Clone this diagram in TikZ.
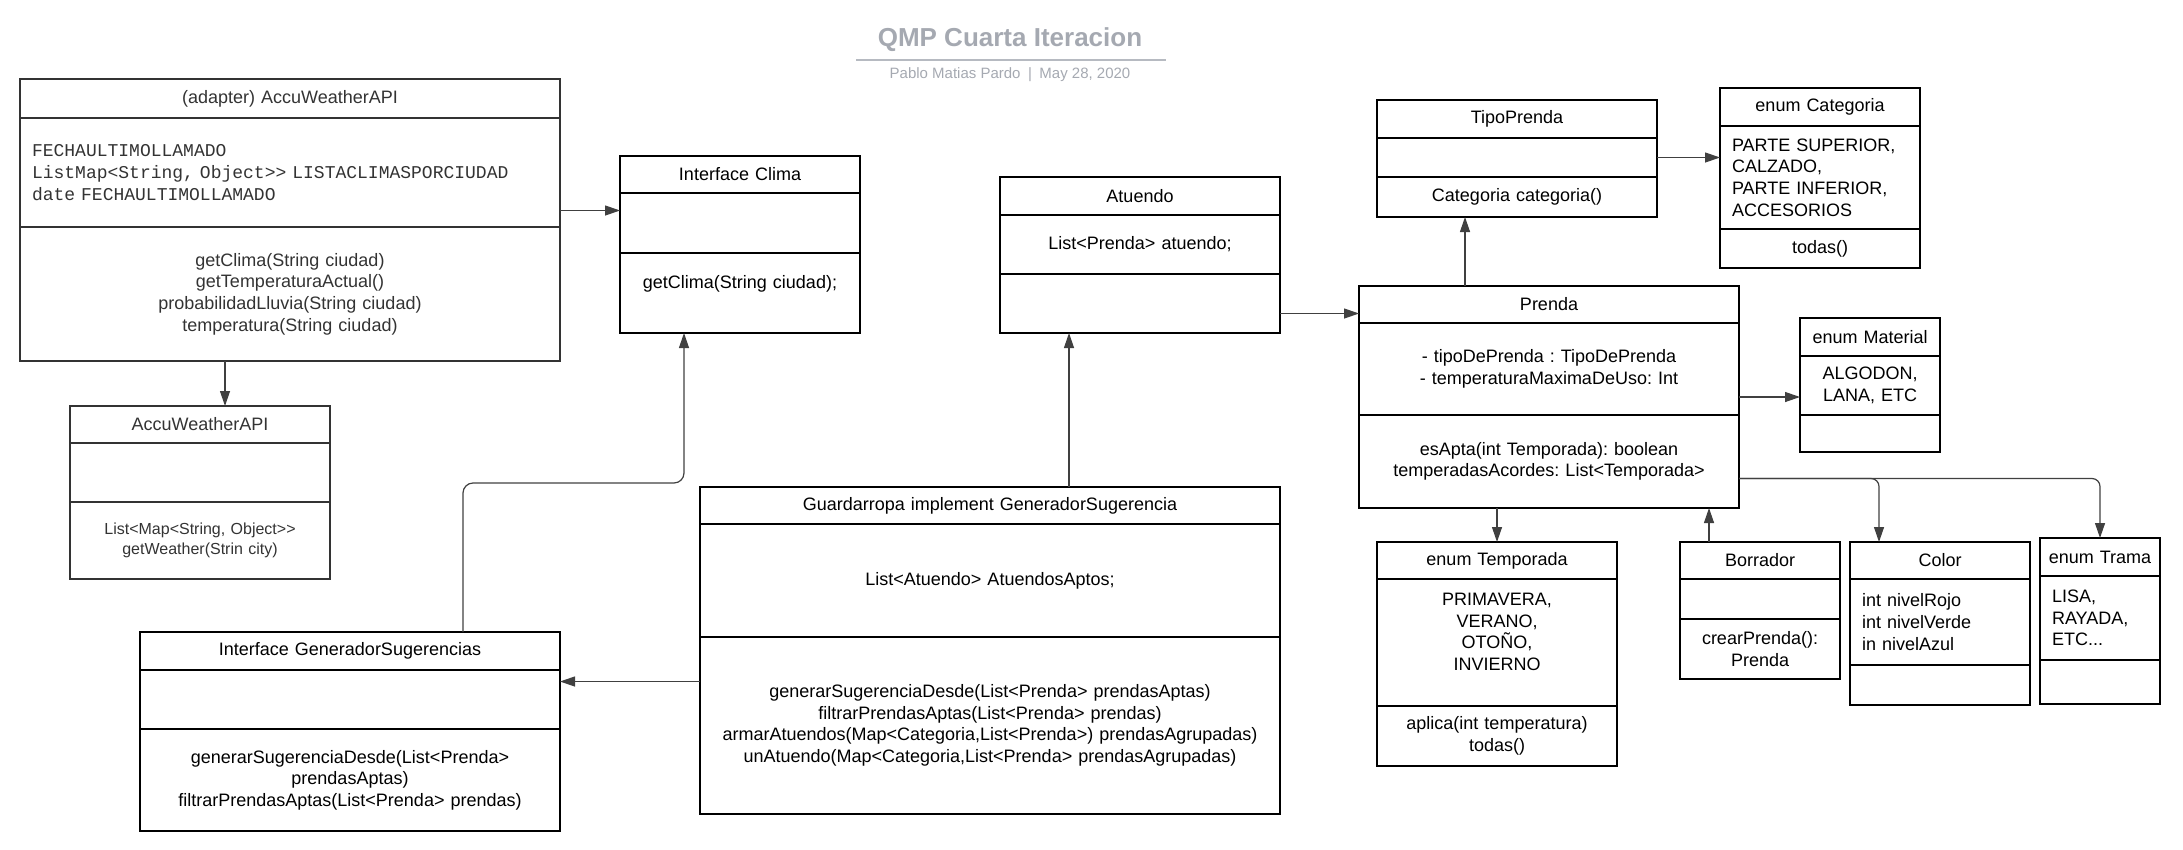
\documentclass[tikz,border=0pt]{standalone}
\usepackage{fontspec}
\setmainfont{Liberation Sans}
\setmonofont{Liberation Mono}
\usetikzlibrary{arrows.meta,positioning}
\definecolor{Ink}{HTML}{333333}
\definecolor{Wire}{HTML}{404040}
\definecolor{Fog}{HTML}{A5A9B1}
\definecolor{FogLine}{HTML}{B6BAC1}
\newcommand\clsfont{\fontsize{18}{21.6}\selectfont}
\newcommand\clssmall{\fontsize{16}{19.3}\selectfont}
\frenchspacing

\begin{document}
\begin{tikzpicture}[x=1pt,y=-1pt,
  every node/.style={font=\clsfont},
  sec/.style 2 args={draw,line width=2.2pt,outer sep=0pt,inner xsep=12pt,inner ysep=0pt,
    text width=#1,minimum height=#2,align=center},
  adap/.style={draw=Ink,text=Ink},
  arr/.style={-{Triangle[length=15pt,width=10pt]},line width=1.2pt,Wire}
]
\useasboundingbox (0,0) rectangle (2183,849);

% title
\node[font=\bfseries\fontsize{26}{31}\selectfont,text=Fog] (ttl) at (1010,40) {QMP Cuarta Iteracion};
\draw[FogLine,line width=2pt] (856,60) -- (1166,60);
\node[font=\fontsize{15}{18}\selectfont,text=Fog] (sub) at (1010,75) {Pablo Matias Pardo\enspace|\enspace May 28, 2020};

% adapter
\node[sec={516pt}{39pt},adap,anchor=north west] (adp) at (20,79) {(adapter) AccuWeatherAPI};
\node[sec={516pt}{109pt},adap,below=0pt of adp,align=left,font=\clsfont\ttfamily] (adp-a) {FECHAULTIMOLLAMADO\\ListMap<String, Object>{}> LISTACLIMASPORCIUDAD\\date FECHAULTIMOLLAMADO};
\node[sec={516pt}{134pt},adap,below=0pt of adp-a] (adp-m) {getClima(String ciudad)\\getTemperaturaActual()\\probabilidadLluvia(String ciudad)\\temperatura(String ciudad)};

% AccuWeatherAPI
\node[sec={236pt}{37pt},adap,anchor=north west] (acc) at (70,406) {AccuWeatherAPI};
\node[sec={236pt}{59pt},adap,below=0pt of acc] (acc-a) {};
\node[sec={236pt}{77pt},adap,below=0pt of acc-a,font=\clssmall] (acc-m) {List<Map<String, Object>{}>\\getWeather(Strin city)};

% Interface Clima
\node[sec={216pt}{37pt},anchor=north west] (cli) at (620,156) {Interface Clima};
\node[sec={216pt}{60pt},below=0pt of cli] (cli-a) {};
\node[sec={216pt}{80pt},below=0pt of cli-a] (cli-m) {getClima(String ciudad);\\\mbox{}};

% Atuendo
\node[sec={256pt}{38pt},anchor=north west] (atu) at (1000,177) {Atuendo};
\node[sec={256pt}{59pt},below=0pt of atu] (atu-a) {List<Prenda> atuendo;};
\node[sec={256pt}{59pt},below=0pt of atu-a] (atu-m) {};

% Interface GeneradorSugerencias
\node[sec={396pt}{38pt},anchor=north west] (gen) at (140,632) {Interface GeneradorSugerencias};
\node[sec={396pt}{59pt},below=0pt of gen] (gen-a) {};
\node[sec={396pt}{102pt},below=0pt of gen-a] (gen-m) {generarSugerenciaDesde(List<Prenda>\\prendasAptas)\\filtrarPrendasAptas(List<Prenda> prendas)};

% Guardarropa
\node[sec={556pt}{37pt},anchor=north west] (gua) at (700,487) {Guardarropa implement GeneradorSugerencia};
\node[sec={556pt}{113pt},below=0pt of gua] (gua-a) {List<Atuendo> AtuendosAptos;};
\node[sec={556pt}{177pt},below=0pt of gua-a] (gua-m) {generarSugerenciaDesde(List<Prenda> prendasAptas)\\filtrarPrendasAptas(List<Prenda> prendas)\\armarAtuendos(Map<Categoria,List<Prenda>) prendasAgrupadas)\\unAtuendo(Map<Categoria,List<Prenda> prendasAgrupadas)};

% TipoPrenda
\node[sec={256pt}{38pt},anchor=north west] (tip) at (1377,100) {TipoPrenda};
\node[sec={256pt}{39pt},below=0pt of tip] (tip-a) {};
\node[sec={256pt}{40pt},below=0pt of tip-a] (tip-m) {Categoria categoria()};

% enum Categoria
\node[sec={176pt}{38pt},anchor=north west] (cat) at (1720,88) {enum Categoria};
\node[sec={176pt}{103pt},below=0pt of cat,align=left] (cat-a) {PARTE SUPERIOR,\\CALZADO,\\PARTE INFERIOR,\\ACCESORIOS};
\node[sec={176pt}{39pt},below=0pt of cat-a] (cat-m) {todas()};

% Prenda
\node[sec={356pt}{37pt},anchor=north west] (pre) at (1359,286) {Prenda};
\node[sec={356pt}{92pt},below=0pt of pre] (pre-a) {- tipoDePrenda : TipoDePrenda\\- temperaturaMaximaDeUso: Int};
\node[sec={356pt}{93pt},below=0pt of pre-a] (pre-m) {esApta(int Temporada): boolean\\temperadasAcordes: List<Temporada>};

% enum Material
\node[sec={116pt}{38pt},anchor=north west] (mat) at (1800,318) {enum Material};
\node[sec={116pt}{59pt},below=0pt of mat] (mat-a) {ALGODON,\\LANA, ETC};
\node[sec={116pt}{37pt},below=0pt of mat-a] (mat-m) {};

% enum Temporada
\node[sec={216pt}{37pt},anchor=north west] (tem) at (1377,542) {enum Temporada};
\node[sec={216pt}{127pt},below=0pt of tem] (tem-a) {PRIMAVERA,\\VERANO,\\OTOÑO,\\INVIERNO\\\mbox{}};
\node[sec={216pt}{60pt},below=0pt of tem-a] (tem-m) {aplica(int temperatura)\\todas()};

% Borrador
\node[sec={136pt}{37pt},anchor=north west] (bor) at (1680,542) {Borrador};
\node[sec={136pt}{40pt},below=0pt of bor] (bor-a) {};
\node[sec={136pt}{60pt},below=0pt of bor-a] (bor-m) {crearPrenda():\\Prenda};

% Color
\node[sec={156pt}{37pt},anchor=north west] (col) at (1850,542) {Color};
\node[sec={156pt}{86pt},below=0pt of col,align=left] (col-a) {int nivelRojo\\int nivelVerde\\in nivelAzul};
\node[sec={156pt}{40pt},below=0pt of col-a] (col-m) {};

% enum Trama
\node[sec={104pt}{38pt},inner xsep=8pt,anchor=north west] (tra) at (2040,538) {enum Trama};
\node[sec={96pt}{84pt},below=0pt of tra,align=left] (tra-a) {LISA,\\RAYADA,\\ETC...};
\node[sec={96pt}{44pt},below=0pt of tra-a] (tra-m) {};

% connectors
\coordinate (c-ac) at ([yshift=-38pt]adp-a.east);
\draw[arr] (c-ac) -- (c-ac -| cli-a.west);
\coordinate (c-aw) at ([xshift=-65pt]adp-m.south);
\draw[arr] (c-aw) -- (c-aw |- acc.north);
\coordinate (c-gs) at ([xshift=113pt]gen.north);
\coordinate (c-cl) at ([xshift=-56pt]cli-m.south);
\draw[arr,rounded corners=10pt] (c-gs) -- ++(0,-149) -| (c-cl);
\coordinate (c-gg) at ([yshift=18pt]gen-a.east);
\draw[arr] (c-gg -| gua-m.west) -- (c-gg);
\coordinate (c-ga) at ([xshift=79pt]gua.north);
\draw[arr] (c-ga) -- (c-ga |- atu-m.south);
\coordinate (c-ap) at ([yshift=-10pt]atu-m.east);
\draw[arr] (c-ap) -- (c-ap -| pre.west);
\coordinate (c-pt) at ([xshift=-84pt]pre.north);
\draw[arr] (c-pt) -- (c-pt |- tip-m.south);
\draw[arr] (tip-a.east) -- (tip-a.east -| cat-a.west);
\coordinate (c-pm) at ([yshift=-28pt]pre-a.east);
\draw[arr] (c-pm) -- (c-pm -| mat-a.west);
\draw[arr] (tem.north |- pre-m.south) -- (tem.north);
\coordinate (c-bp) at ([xshift=-51pt]bor.north);
\draw[arr] (c-bp) -- (c-bp |- pre-m.south);
\coordinate (c-pc) at ([yshift=-17pt]pre-m.east);
\coordinate (c-co) at ([xshift=-61pt]col.north);
\draw[arr,rounded corners=8pt] (c-pc) -| (c-co);
\draw[arr,rounded corners=8pt] (c-pc) -| (tra.north);
\end{tikzpicture}
\end{document}
